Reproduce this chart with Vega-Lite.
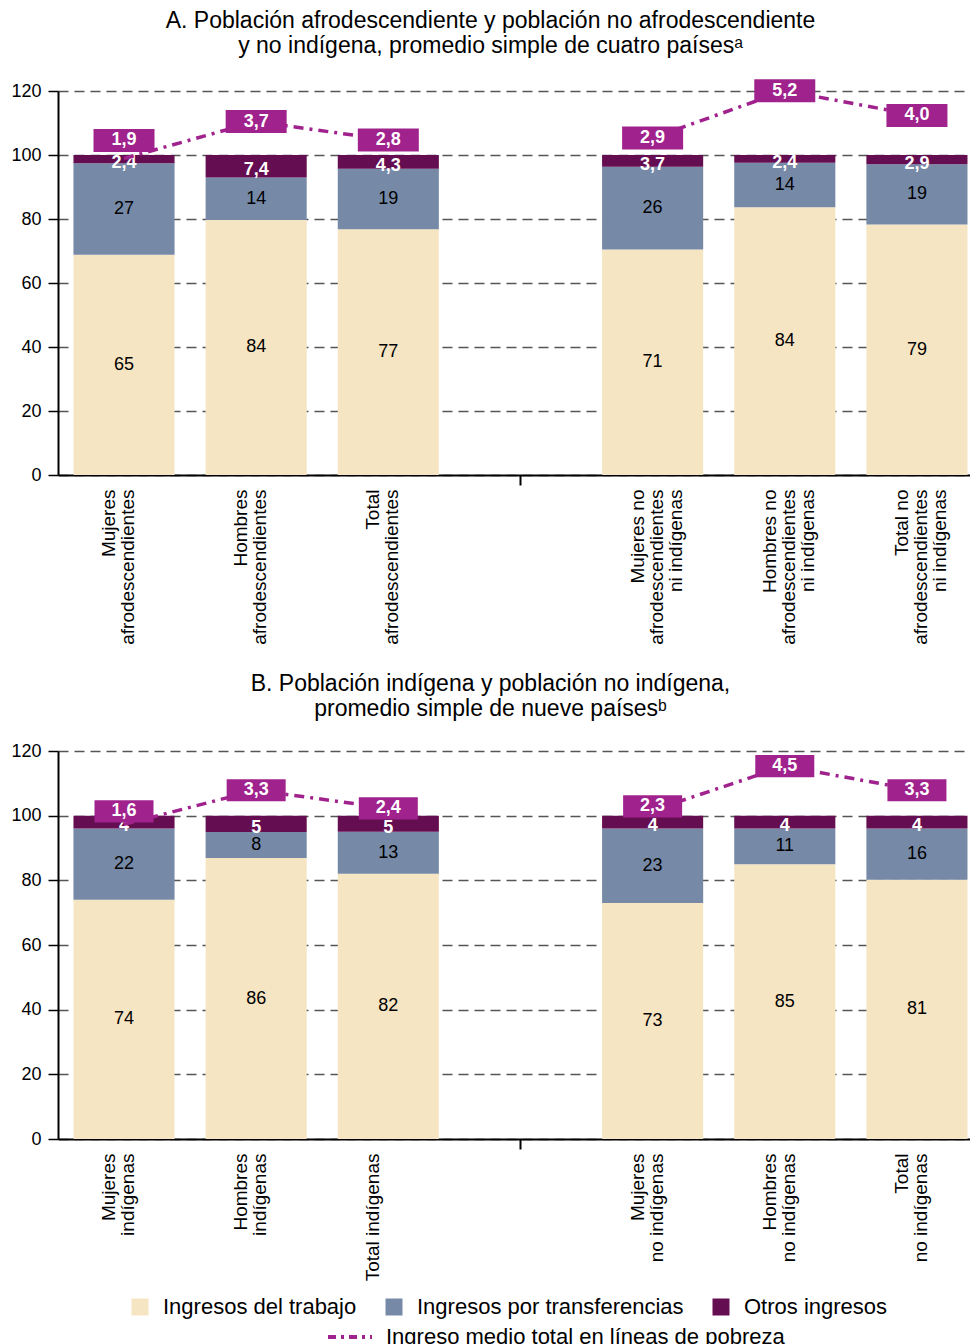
{
  "$schema": "https://vega.github.io/schema/vega-lite/v6.json",
  "padding": {"left": 10, "top": 10, "right": 0, "bottom": 0},
  "background": "white",
  "datasets": {
    "barsA": [
      {"categoria": "Mujeres|afrodescendientes", "componente": "Ingresos del trabajo", "valor": 65},
      {"categoria": "Mujeres|afrodescendientes", "componente": "Ingresos por transferencias", "valor": 27},
      {"categoria": "Mujeres|afrodescendientes", "componente": "Otros ingresos", "valor": 2.4},
      {"categoria": "Hombres|afrodescendientes", "componente": "Ingresos del trabajo", "valor": 84},
      {"categoria": "Hombres|afrodescendientes", "componente": "Ingresos por transferencias", "valor": 14},
      {"categoria": "Hombres|afrodescendientes", "componente": "Otros ingresos", "valor": 7.4},
      {"categoria": "Total|afrodescendientes", "componente": "Ingresos del trabajo", "valor": 77},
      {"categoria": "Total|afrodescendientes", "componente": "Ingresos por transferencias", "valor": 19},
      {"categoria": "Total|afrodescendientes", "componente": "Otros ingresos", "valor": 4.3},
      {"categoria": "Mujeres no|afrodescendientes|ni indígenas", "componente": "Ingresos del trabajo", "valor": 71},
      {"categoria": "Mujeres no|afrodescendientes|ni indígenas", "componente": "Ingresos por transferencias", "valor": 26},
      {"categoria": "Mujeres no|afrodescendientes|ni indígenas", "componente": "Otros ingresos", "valor": 3.7},
      {"categoria": "Hombres no|afrodescendientes|ni indígenas", "componente": "Ingresos del trabajo", "valor": 84},
      {"categoria": "Hombres no|afrodescendientes|ni indígenas", "componente": "Ingresos por transferencias", "valor": 14},
      {"categoria": "Hombres no|afrodescendientes|ni indígenas", "componente": "Otros ingresos", "valor": 2.4},
      {"categoria": "Total no|afrodescendientes|ni indígenas", "componente": "Ingresos del trabajo", "valor": 79},
      {"categoria": "Total no|afrodescendientes|ni indígenas", "componente": "Ingresos por transferencias", "valor": 19},
      {"categoria": "Total no|afrodescendientes|ni indígenas", "componente": "Otros ingresos", "valor": 2.9}
    ],
    "lineA": [
      {"categoria": "Mujeres|afrodescendientes", "grupo": "afro", "valor": 1.9},
      {"categoria": "Hombres|afrodescendientes", "grupo": "afro", "valor": 3.7},
      {"categoria": "Total|afrodescendientes", "grupo": "afro", "valor": 2.8},
      {"categoria": "Mujeres no|afrodescendientes|ni indígenas", "grupo": "noafro", "valor": 2.9},
      {"categoria": "Hombres no|afrodescendientes|ni indígenas", "grupo": "noafro", "valor": 5.2},
      {"categoria": "Total no|afrodescendientes|ni indígenas", "grupo": "noafro", "valor": 4.0}
    ],
    "barsB": [
      {"categoria": "Mujeres|indígenas", "componente": "Ingresos del trabajo", "valor": 74},
      {"categoria": "Mujeres|indígenas", "componente": "Ingresos por transferencias", "valor": 22},
      {"categoria": "Mujeres|indígenas", "componente": "Otros ingresos", "valor": 4},
      {"categoria": "Hombres|indígenas", "componente": "Ingresos del trabajo", "valor": 86},
      {"categoria": "Hombres|indígenas", "componente": "Ingresos por transferencias", "valor": 8},
      {"categoria": "Hombres|indígenas", "componente": "Otros ingresos", "valor": 5},
      {"categoria": "Total indígenas", "componente": "Ingresos del trabajo", "valor": 82},
      {"categoria": "Total indígenas", "componente": "Ingresos por transferencias", "valor": 13},
      {"categoria": "Total indígenas", "componente": "Otros ingresos", "valor": 5},
      {"categoria": "Mujeres|no indígenas", "componente": "Ingresos del trabajo", "valor": 73},
      {"categoria": "Mujeres|no indígenas", "componente": "Ingresos por transferencias", "valor": 23},
      {"categoria": "Mujeres|no indígenas", "componente": "Otros ingresos", "valor": 4},
      {"categoria": "Hombres|no indígenas", "componente": "Ingresos del trabajo", "valor": 85},
      {"categoria": "Hombres|no indígenas", "componente": "Ingresos por transferencias", "valor": 11},
      {"categoria": "Hombres|no indígenas", "componente": "Otros ingresos", "valor": 4},
      {"categoria": "Total|no indígenas", "componente": "Ingresos del trabajo", "valor": 81},
      {"categoria": "Total|no indígenas", "componente": "Ingresos por transferencias", "valor": 16},
      {"categoria": "Total|no indígenas", "componente": "Otros ingresos", "valor": 4}
    ],
    "lineB": [
      {"categoria": "Mujeres|indígenas", "grupo": "ind", "valor": 1.6},
      {"categoria": "Hombres|indígenas", "grupo": "ind", "valor": 3.3},
      {"categoria": "Total indígenas", "grupo": "ind", "valor": 2.4},
      {"categoria": "Mujeres|no indígenas", "grupo": "noind", "valor": 2.3},
      {"categoria": "Hombres|no indígenas", "grupo": "noind", "valor": 4.5},
      {"categoria": "Total|no indígenas", "grupo": "noind", "valor": 3.3}
    ]
  },
  "spacing": 28,
  "vconcat": [
    {
      "title": {"text": ["A. Población afrodescendiente y población no afrodescendiente", "y no indígena, promedio simple de cuatro paísesᵃ"]},
      "width": 912,
      "height": 384,
      "resolve": {"scale": {"y": "independent"}},
      "layer": [
        {
          "data": {"name": "barsA"},
          "layer": [
            {
              "mark": {"type": "bar"},
              "encoding": {
                "x": {"field": "categoria", "type": "nominal", "sort": null,
                  "scale": {"domain": ["Mujeres|afrodescendientes", "Hombres|afrodescendientes", "Total|afrodescendientes", " ", "Mujeres no|afrodescendientes|ni indígenas", "Hombres no|afrodescendientes|ni indígenas", "Total no|afrodescendientes|ni indígenas"], "paddingInner": 0.235, "paddingOuter": 0.068, "align": 0.86},
                  "axis": {"title": null, "labelAngle": -90, "labelAlign": "right", "labelBaseline": "middle", "labelExpr": "datum.value === ' ' ? '' : split(datum.value, '|')", "labelFontSize": 19, "labelLineHeight": 19, "labelPadding": 4, "labelOffset": -15, "labelLimit": 400, "domainColor": "#000", "domainWidth": 2, "tickColor": "#000", "tickWidth": 2, "tickSize": 10, "tickOpacity": {"condition": {"test": "datum.value === ' '", "value": 1}, "value": 0}, "labelColor": "#000", "grid": false}},
                "y": {"field": "valor", "type": "quantitative", "stack": "normalize", "scale": {"domain": [0, 1.2]},
                  "axis": {"title": null, "values": [0, 0.2, 0.4, 0.6, 0.8, 1, 1.2], "labelExpr": "format(datum.value*100, 'd')", "grid": true, "gridDash": [10, 6], "gridColor": "#555", "gridWidth": 1.3, "domainColor": "#000", "domainWidth": 2, "tickColor": "#000", "tickSize": 10, "tickWidth": 1.5, "labelFontSize": 18, "labelPadding": 7, "labelColor": "#000"}},
                "order": {"field": "componente", "sort": "ascending"},
                "color": {"field": "componente", "type": "nominal",
                  "scale": {"domain": ["Ingresos del trabajo", "Ingresos por transferencias", "Otros ingresos"], "range": ["#F6E5C3", "#768AA8", "#650D51"]},
                  "legend": {"orient": "none", "legendX": 71, "legendY": 1205, "direction": "horizontal", "title": null, "symbolType": "square", "symbolSize": 289, "symbolStrokeWidth": 0, "labelFontSize": 22, "labelFont": "Liberation Sans", "labelColor": "#000", "columnPadding": 26, "labelOffset": 12, "labelLimit": 400}}
              }
            },
            {
              "mark": {"type": "text", "fontSize": 18, "baseline": "middle", "color": "#000"},
              "encoding": {
                "x": {"field": "categoria", "type": "nominal", "sort": null},
                "y": {"field": "valor", "type": "quantitative", "stack": "normalize", "bandPosition": 0.5, "scale": {"domain": [0, 1.2]}},
                "order": {"field": "componente", "sort": "ascending"},
                "detail": {"field": "componente"},
                "text": {"condition": {"test": "datum.componente !== 'Otros ingresos'", "field": "valor", "type": "quantitative", "format": "d"}, "value": ""}
              }
            },
            {
              "mark": {"type": "text", "fontSize": 18, "fontWeight": "bold", "baseline": "middle", "color": "white", "dy": 4},
              "encoding": {
                "x": {"field": "categoria", "type": "nominal", "sort": null},
                "y": {"field": "valor", "type": "quantitative", "stack": "normalize", "bandPosition": 0.5, "scale": {"domain": [0, 1.2]}},
                "order": {"field": "componente", "sort": "ascending"},
                "detail": {"field": "componente"},
                "text": {"condition": {"test": "datum.componente === 'Otros ingresos'", "field": "valor", "type": "quantitative", "format": ".1f"}, "value": ""}
              }
            }
          ]
        },
        {
          "data": {"name": "lineA"},
          "encoding": {
            "x": {"field": "categoria", "type": "nominal", "sort": null},
            "y": {"field": "valor", "type": "quantitative", "scale": {"domain": [-13.54, 5.19]}, "axis": null}
          },
          "layer": [
            {
              "mark": {"type": "line", "strokeWidth": 3.5, "strokeDash": [10, 6, 3, 6]},
              "encoding": {
                "detail": {"field": "grupo"},
                "stroke": {"datum": "Ingreso medio total en líneas de pobreza", "type": "nominal", "scale": {"range": ["#A0228D"]},
                  "legend": {"orient": "none", "legendX": 268, "legendY": 1222, "title": null, "symbolType": "stroke", "symbolSize": 1936, "symbolStrokeWidth": 4, "symbolDash": [8, 5, 3, 5], "labelFontSize": 22, "labelFont": "Liberation Sans", "labelColor": "#000", "labelOffset": 12, "labelLimit": 500}}
              }
            },
            {
              "transform": [{"filter": "datum.categoria !== 'Mujeres|afrodescendientes'"}],
              "layer": [
                {"mark": {"type": "point", "shape": "M-1,-0.377L1,-0.377L1,0.377L-1,0.377Z", "filled": true, "size": 3721, "color": "#A0228D", "opacity": 1, "strokeWidth": 0}},
                {"mark": {"type": "text", "fontSize": 18, "fontWeight": "bold", "baseline": "middle", "color": "white"},
                 "encoding": {"text": {"field": "valor", "type": "quantitative", "format": ".1f"}}}
              ]
            },
            {
              "transform": [{"filter": "datum.categoria === 'Mujeres|afrodescendientes'"}],
              "encoding": {"yOffset": {"value": -18}},
              "layer": [
                {"mark": {"type": "point", "shape": "M-1,-0.377L1,-0.377L1,0.377L-1,0.377Z", "filled": true, "size": 3721, "color": "#A0228D", "opacity": 1, "strokeWidth": 0}},
                {"mark": {"type": "text", "fontSize": 18, "fontWeight": "bold", "baseline": "middle", "color": "white"},
                 "encoding": {"text": {"field": "valor", "type": "quantitative", "format": ".1f"}}}
              ]
            }
          ]
        }
      ]
    },
    {
      "title": {"text": ["B. Población indígena y población no indígena,", "promedio simple de nueve paísesᵇ"]},
      "width": 912,
      "height": 388,
      "resolve": {"scale": {"y": "independent"}},
      "layer": [
        {
          "data": {"name": "barsB"},
          "layer": [
            {
              "mark": {"type": "bar"},
              "encoding": {
                "x": {"field": "categoria", "type": "nominal", "sort": null,
                  "scale": {"domain": ["Mujeres|indígenas", "Hombres|indígenas", "Total indígenas", " ", "Mujeres|no indígenas", "Hombres|no indígenas", "Total|no indígenas"], "paddingInner": 0.235, "paddingOuter": 0.068, "align": 0.86},
                  "axis": {"title": null, "labelAngle": -90, "labelAlign": "right", "labelBaseline": "middle", "labelExpr": "datum.value === ' ' ? '' : split(datum.value, '|')", "labelFontSize": 19, "labelLineHeight": 19, "labelPadding": 4, "labelOffset": -15, "labelLimit": 400, "domainColor": "#000", "domainWidth": 2, "tickColor": "#000", "tickWidth": 2, "tickSize": 10, "tickOpacity": {"condition": {"test": "datum.value === ' '", "value": 1}, "value": 0}, "labelColor": "#000", "grid": false}},
                "y": {"field": "valor", "type": "quantitative", "stack": "normalize", "scale": {"domain": [0, 1.2]},
                  "axis": {"title": null, "values": [0, 0.2, 0.4, 0.6, 0.8, 1, 1.2], "labelExpr": "format(datum.value*100, 'd')", "grid": true, "gridDash": [10, 6], "gridColor": "#555", "gridWidth": 1.3, "domainColor": "#000", "domainWidth": 2, "tickColor": "#000", "tickSize": 10, "tickWidth": 1.5, "labelFontSize": 18, "labelPadding": 7, "labelColor": "#000"}},
                "order": {"field": "componente", "sort": "ascending"},
                "color": {"field": "componente", "type": "nominal",
                  "scale": {"domain": ["Ingresos del trabajo", "Ingresos por transferencias", "Otros ingresos"], "range": ["#F6E5C3", "#768AA8", "#650D51"]},
                  "legend": {"orient": "none", "legendX": 71, "legendY": 1205, "direction": "horizontal", "title": null, "symbolType": "square", "symbolSize": 289, "symbolStrokeWidth": 0, "labelFontSize": 22, "labelFont": "Liberation Sans", "labelColor": "#000", "columnPadding": 26, "labelOffset": 12, "labelLimit": 400}}
              }
            },
            {
              "mark": {"type": "text", "fontSize": 18, "baseline": "middle", "color": "#000"},
              "encoding": {
                "x": {"field": "categoria", "type": "nominal", "sort": null},
                "y": {"field": "valor", "type": "quantitative", "stack": "normalize", "bandPosition": 0.5, "scale": {"domain": [0, 1.2]}},
                "order": {"field": "componente", "sort": "ascending"},
                "detail": {"field": "componente"},
                "text": {"condition": {"test": "datum.componente !== 'Otros ingresos'", "field": "valor", "type": "quantitative", "format": "d"}, "value": ""}
              }
            },
            {
              "mark": {"type": "text", "fontSize": 18, "fontWeight": "bold", "baseline": "middle", "color": "white", "dy": 4},
              "encoding": {
                "x": {"field": "categoria", "type": "nominal", "sort": null},
                "y": {"field": "valor", "type": "quantitative", "stack": "normalize", "bandPosition": 0.5, "scale": {"domain": [0, 1.2]}},
                "order": {"field": "componente", "sort": "ascending"},
                "detail": {"field": "componente"},
                "text": {"condition": {"test": "datum.componente === 'Otros ingresos'", "field": "valor", "type": "quantitative", "format": "d"}, "value": ""}
              }
            }
          ]
        },
        {
          "data": {"name": "lineB"},
          "encoding": {
            "x": {"field": "categoria", "type": "nominal", "sort": null},
            "y": {"field": "valor", "type": "quantitative", "scale": {"domain": [-14.07, 5.255]}, "axis": null}
          },
          "layer": [
            {
              "mark": {"type": "line", "strokeWidth": 3.5, "strokeDash": [10, 6, 3, 6]},
              "encoding": {
                "detail": {"field": "grupo"},
                "stroke": {"datum": "Ingreso medio total en líneas de pobreza", "type": "nominal", "scale": {"range": ["#A0228D"]},
                  "legend": {"orient": "none", "legendX": 268, "legendY": 1222, "title": null, "symbolType": "stroke", "symbolSize": 1936, "symbolStrokeWidth": 4, "symbolDash": [8, 5, 3, 5], "labelFontSize": 22, "labelFont": "Liberation Sans", "labelColor": "#000", "labelOffset": 12, "labelLimit": 500}}
              }
            },
            {
              "transform": [{"filter": "datum.categoria !== 'Mujeres|indígenas' && datum.categoria !== 'Mujeres|no indígenas'"}],
              "layer": [
                {"mark": {"type": "point", "shape": "M-1,-0.377L1,-0.377L1,0.377L-1,0.377Z", "filled": true, "size": 3481, "color": "#A0228D", "opacity": 1, "strokeWidth": 0}},
                {"mark": {"type": "text", "fontSize": 18, "fontWeight": "bold", "baseline": "middle", "color": "white"},
                 "encoding": {"text": {"field": "valor", "type": "quantitative", "format": ".1f"}}}
              ]
            },
            {
              "transform": [{"filter": "datum.categoria === 'Mujeres|indígenas'"}],
              "encoding": {"yOffset": {"value": -13}},
              "layer": [
                {"mark": {"type": "point", "shape": "M-1,-0.377L1,-0.377L1,0.377L-1,0.377Z", "filled": true, "size": 3481, "color": "#A0228D", "opacity": 1, "strokeWidth": 0}},
                {"mark": {"type": "text", "fontSize": 18, "fontWeight": "bold", "baseline": "middle", "color": "white"},
                 "encoding": {"text": {"field": "valor", "type": "quantitative", "format": ".1f"}}}
              ]
            },
            {
              "transform": [{"filter": "datum.categoria === 'Mujeres|no indígenas'"}],
              "encoding": {"yOffset": {"value": -4}},
              "layer": [
                {"mark": {"type": "point", "shape": "M-1,-0.377L1,-0.377L1,0.377L-1,0.377Z", "filled": true, "size": 3481, "color": "#A0228D", "opacity": 1, "strokeWidth": 0}},
                {"mark": {"type": "text", "fontSize": 18, "fontWeight": "bold", "baseline": "middle", "color": "white"},
                 "encoding": {"text": {"field": "valor", "type": "quantitative", "format": ".1f"}}}
              ]
            }
          ]
        }
      ]
    }
  ],
  "config": {
    "locale": {"number": {"decimal": ",", "thousands": ".", "grouping": [3], "currency": ["", ""]}},
    "font": "Liberation Sans",
    "view": {"stroke": null},
    "title": {"fontSize": 23, "fontWeight": "normal", "font": "Liberation Sans", "color": "#000", "anchor": "middle", "frame": "bounds", "lineHeight": 25, "offset": 21},
    "axis": {"labelFont": "Liberation Sans"},
    "legend": {"labelFont": "Liberation Sans"}
  }
}
